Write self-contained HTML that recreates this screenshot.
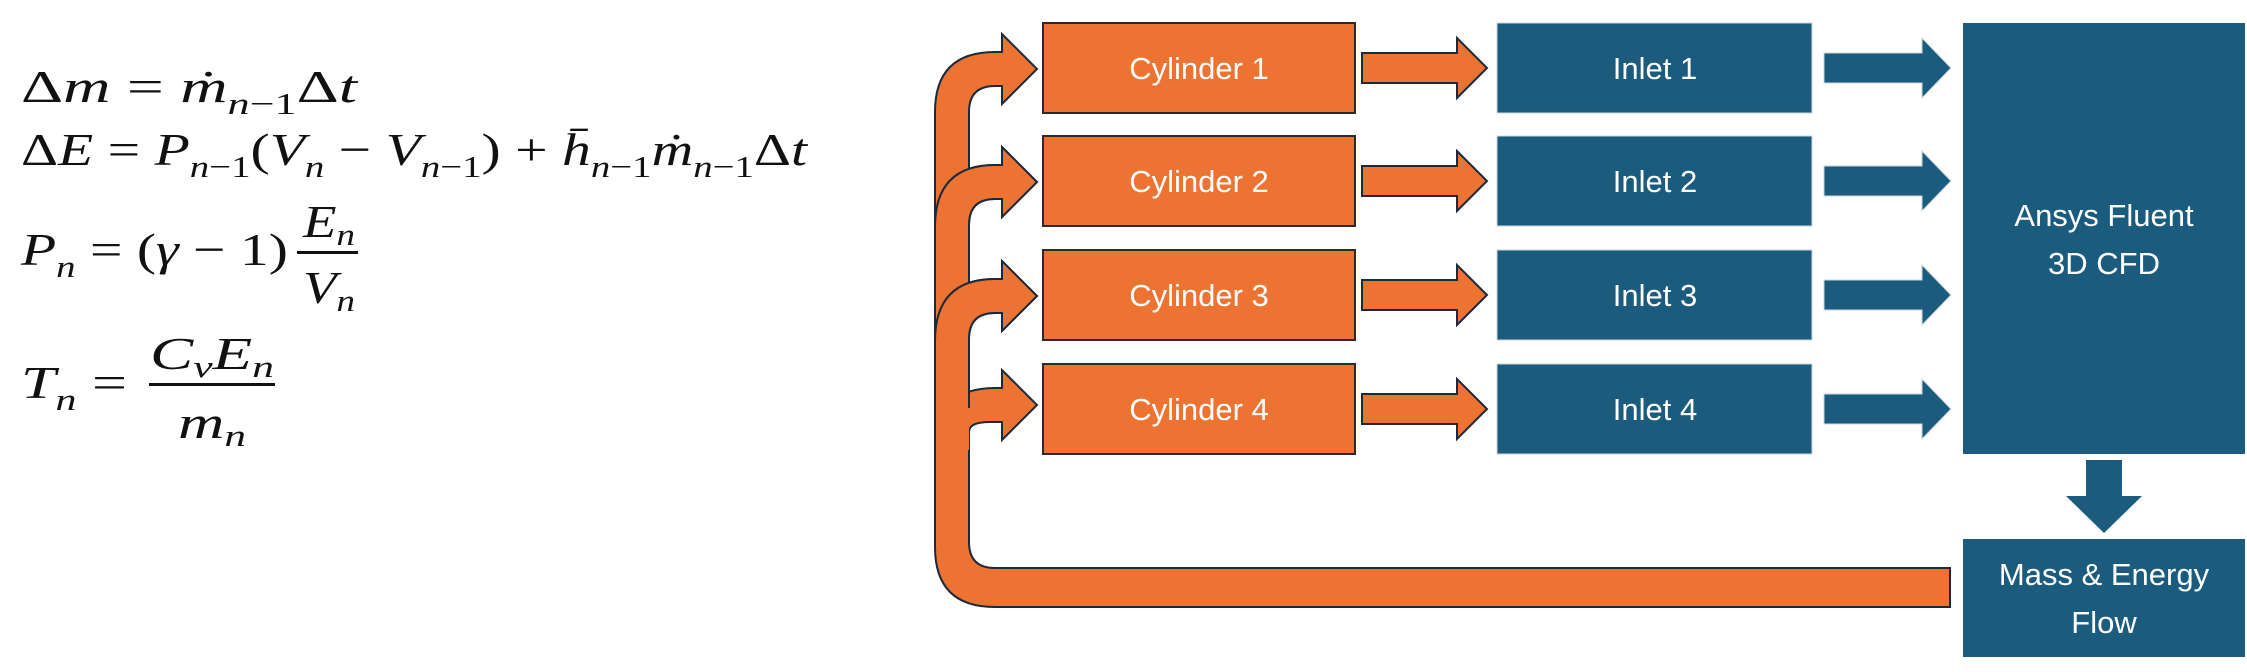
<!DOCTYPE html>
<html><head><meta charset="utf-8"><style>
html,body{margin:0;padding:0;background:#fff;}
body{width:2247px;height:672px;overflow:hidden;position:relative;}
svg{position:absolute;left:0;top:0;}
.m{font-family:"Liberation Serif",serif;font-style:italic;fill:#111;}
.r{font-style:normal;}
.bt{font-family:"Liberation Sans",sans-serif;fill:#fff;font-size:31px;text-anchor:middle;}
</style></head><body>
<svg width="2247" height="672" viewBox="0 0 2247 672">
<g>
 <text class="m" x="21" y="102" font-size="46" textLength="336" lengthAdjust="spacingAndGlyphs"><tspan class="r">Δ</tspan>m <tspan class="r">=</tspan> ṁ<tspan font-size="31" dy="12">n<tspan class="r">−1</tspan></tspan><tspan class="r" dy="-12">Δ</tspan>t</text>
 <text class="m" x="21" y="165" font-size="46" textLength="786" lengthAdjust="spacingAndGlyphs"><tspan class="r">Δ</tspan>E <tspan class="r">=</tspan> P<tspan font-size="31" dy="12">n<tspan class="r">−1</tspan></tspan><tspan class="r" dy="-12">(</tspan>V<tspan font-size="31" dy="12">n</tspan><tspan class="r" dy="-12"> − </tspan>V<tspan font-size="31" dy="12">n<tspan class="r">−1</tspan></tspan><tspan class="r" dy="-12">) + </tspan>h̄<tspan font-size="31" dy="12">n<tspan class="r">−1</tspan></tspan><tspan dy="-12">ṁ</tspan><tspan font-size="31" dy="12">n<tspan class="r">−1</tspan></tspan><tspan class="r" dy="-12">Δ</tspan>t</text>
 <g>
  <text class="m" x="21" y="265" font-size="46" textLength="267" lengthAdjust="spacingAndGlyphs">P<tspan font-size="31" dy="12">n</tspan><tspan class="r" dy="-12"> = (</tspan>γ<tspan class="r"> − 1)</tspan></text>
  <text class="m" x="303" y="237" font-size="46" textLength="52" lengthAdjust="spacingAndGlyphs">E<tspan font-size="31" dy="8">n</tspan></text>
  <rect x="297" y="251" width="61" height="3" fill="#111"/>
  <text class="m" x="303" y="303" font-size="46" textLength="52" lengthAdjust="spacingAndGlyphs">V<tspan font-size="31" dy="8">n</tspan></text>
 </g>
 <g>
  <text class="m" x="21" y="398" font-size="46" textLength="106" lengthAdjust="spacingAndGlyphs">T<tspan font-size="31" dy="12">n</tspan><tspan class="r" dy="-12"> =</tspan></text>
  <text class="m" x="150" y="369" font-size="46" textLength="124" lengthAdjust="spacingAndGlyphs">C<tspan font-size="31" dy="8">v</tspan><tspan dy="-8">E</tspan><tspan font-size="31" dy="8">n</tspan></text>
  <rect x="149" y="383" width="126" height="3" fill="#111"/>
  <text class="m" x="178" y="438" font-size="46" textLength="68" lengthAdjust="spacingAndGlyphs">m<tspan font-size="31" dy="8">n</tspan></text>
 </g>
</g>

<g stroke="#1b2a3a" stroke-width="2" fill="#EC7332" stroke-linejoin="miter">
 <path d="M1950 568 L995 568 Q969 568 969 542 L969 432 Q969 422 990 422 L1002 422 L1002 440 L1037 405 L1002 370 L1002 388 L995 388 Q935 388 935 448 L935 547 Q935 607 995 607 L1950 607 Z"/>
 <path d="M935 450 L935 130 L969 130 L969 450 Z" stroke="none"/>
 <path d="M935 450 L935 130 M969 130 L969 392" fill="none"/>
</g>
<g stroke="#1b2a3a" stroke-width="2" fill="#EC7332" id="branches"></g>

<g id="boxes"></g>
</svg>
<script>
const rows=[0,1,2,3];
const cyl=["Cylinder 1","Cylinder 2","Cylinder 3","Cylinder 4"];
const inl=["Inlet 1","Inlet 2","Inlet 3","Inlet 4"];
const tops=[23,136,250,364];
const NS="http://www.w3.org/2000/svg";
const br=document.getElementById('branches');
const bx=document.getElementById('boxes');
function mk(tag,at,parent){const e=document.createElementNS(NS,tag);for(const k in at)e.setAttribute(k,at[k]);parent.appendChild(e);return e;}
rows.slice(0,3).forEach(i=>{
 const c=tops[i]+46;
 const p=mk('path',{d:`M935 ${c+75} L935 ${c+43} Q935 ${c-17} 995 ${c-17} L1002 ${c-17} L1002 ${c-35} L1037 ${c} L1002 ${c+35} L1002 ${c+17} L995 ${c+17} Q969 ${c+17} 969 ${c+43} L969 ${c+75} Z`},br);
 
 
});
mk('rect',{x:936,y:130,width:32,height:300,fill:'#EC7332',stroke:'none'},br);
rows.slice(1,3).forEach(i=>{const c=tops[i]+46;
 mk('path',{d:`M935 ${c+45} Q935 ${c-17} 995 ${c-17} L1002 ${c-17} L1002 ${c-35} L1037 ${c} L1002 ${c+35} L1002 ${c+17} L995 ${c+17} Q969 ${c+17} 969 ${c+43} L969 ${c+112}`,fill:'#EC7332'},br);
});
mk('path',{d:'M935 140 L935 460 M969 128 L969 148',fill:'none'},br);
rows.forEach(i=>{
 const t=tops[i],c=t+45;
 const r=mk('rect',{x:1043,y:t,width:312,height:90,fill:'#EC7332',stroke:'#2a2a2a','stroke-width':2},bx);
 
 
 const tx=mk('text',{x:1199,y:c+11,class:'bt'},bx);tx.textContent=cyl[i];
 
 
 const a=mk('path',{d:`M1362 ${c-15} L1457 ${c-15} L1457 ${c-30} L1487 ${c} L1457 ${c+30} L1457 ${c+15} L1362 ${c+15} Z`,fill:'#EC7332',stroke:'#1b2a3a','stroke-width':2},bx);
 
 
 const b=mk('rect',{x:1497,y:t,width:315,height:90,fill:'#1B5C7E',stroke:'#cfd6da','stroke-width':1},bx);
 
 
 const t2=mk('text',{x:1655,y:c+11,class:'bt'},bx);t2.textContent=inl[i];
 
 
 const a2=mk('path',{d:`M1824 ${c-15} L1922 ${c-15} L1922 ${c-30} L1951 ${c} L1922 ${c+30} L1922 ${c+15} L1824 ${c+15} Z`,fill:'#1B5C7E',stroke:'#cfd6da','stroke-width':1},bx);
 
 
});
const f=mk('rect',{x:1963,y:23,width:282,height:431,fill:'#1B5C7E'},bx);


const f1=mk('text',{x:2104,y:226,class:'bt'},bx);f1.textContent='Ansys Fluent';


const f2=mk('text',{x:2104,y:274,class:'bt'},bx);f2.textContent='3D CFD';


const d=mk('path',{d:'M2086 460 L2122 460 L2122 496 L2142 496 L2104 533 L2066 496 L2086 496 Z',fill:'#1B5C7E'},bx);


const mbox=mk('rect',{x:1963,y:539,width:282,height:118,fill:'#1B5C7E'},bx);


const m1=mk('text',{x:2104,y:585,class:'bt'},bx);m1.textContent='Mass & Energy';


const m2=mk('text',{x:2104,y:633,class:'bt'},bx);m2.textContent='Flow';


</script>
</body></html>
